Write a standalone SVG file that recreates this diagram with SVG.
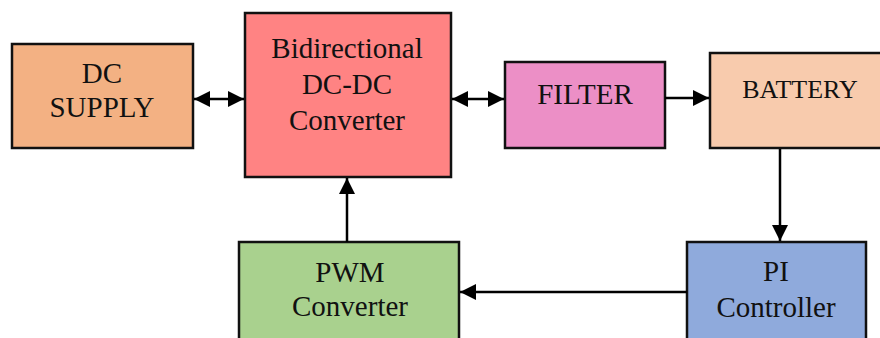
<svg xmlns="http://www.w3.org/2000/svg" width="880" height="338" viewBox="0 0 880 338">
<style>
.box{stroke:#111;stroke-width:2.5}
.t{font-family:"Liberation Serif",Tinos,"Times New Roman","DejaVu Serif",serif;font-size:29px;fill:#111;text-anchor:middle}
.c{stroke:#000;stroke-width:2.5;fill:none}
</style>
<defs>
<marker id="ah" markerUnits="userSpaceOnUse" markerWidth="17" markerHeight="16" refX="16" refY="8" orient="auto-start-reverse" viewBox="0 0 17 16">
<path d="M0,0 L16,8 L0,16 Z" fill="#000"/>
</marker>
</defs>
<rect width="880" height="338" fill="#fff"/>
<g id="dc-supply">
<rect class="box" x="12" y="44" width="181" height="104" fill="#F3B183"/>
<text class="t" x="102" y="83" font-family="Liberation Serif, serif">DC</text>
<text class="t" x="102" y="117" font-family="Liberation Serif, serif">SUPPLY</text>
</g>
<g id="bidirectional">
<rect class="box" x="245" y="13" width="206" height="164" fill="#FF8383"/>
<text class="t" x="347" y="58">Bidirectional</text>
<text class="t" x="347" y="94">DC-DC</text>
<text class="t" x="347" y="130">Converter</text>
</g>
<g id="filter">
<rect class="box" x="505" y="62" width="160" height="86" fill="#EC8FC6"/>
<text class="t" x="585" y="104">FILTER</text>
</g>
<g id="battery">
<rect class="box" x="710" y="53" width="185" height="95" fill="#F8CBAD"/>
<text class="t" x="800" y="98" style="font-size:26px">BATTERY</text>
</g>
<g id="pwm">
<rect class="box" x="239" y="242" width="220" height="110" fill="#A9D18E"/>
<text class="t" x="350" y="282">PWM</text>
<text class="t" x="350" y="316">Converter</text>
</g>
<g id="pi">
<rect class="box" x="687" y="242" width="179" height="110" fill="#8FAADC"/>
<text class="t" x="776" y="281">PI</text>
<text class="t" x="776" y="317">Controller</text>
</g>
<g id="connectors">
<line class="c" x1="194" y1="99" x2="244" y2="99" marker-start="url(#ah)" marker-end="url(#ah)"/>
<line class="c" x1="452" y1="99" x2="504" y2="99" marker-start="url(#ah)" marker-end="url(#ah)"/>
<line class="c" x1="665" y1="98" x2="709" y2="98" marker-end="url(#ah)"/>
<line class="c" x1="780" y1="149" x2="780" y2="241" marker-end="url(#ah)"/>
<line class="c" x1="347" y1="242" x2="347" y2="178" marker-end="url(#ah)"/>
<line class="c" x1="687" y1="292" x2="460" y2="292" marker-end="url(#ah)"/>
</g>
</svg>
